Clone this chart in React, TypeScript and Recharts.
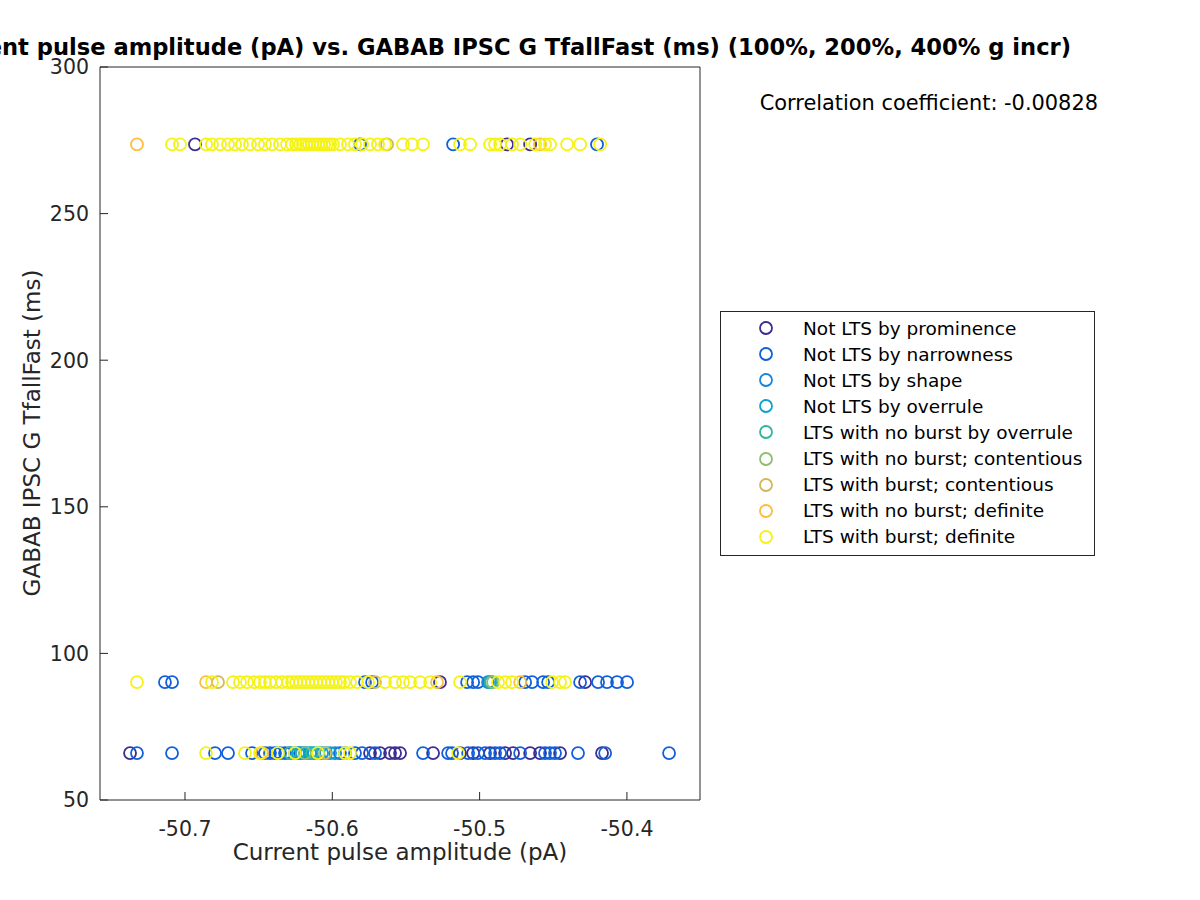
import { Scatter, ScatterChart, XAxis, YAxis } from 'recharts';

// amplitude (pA) of each cell, grouped by LTS class and TfallFast level
const tfallHigh = 273.6;
const tfallMid = 90.2;
const tfallLow = 66.0;

const prominenceHigh = [-50.6932, -50.4814, -50.4657];
const prominenceMid = [-50.5269, -50.4284];
const prominenceLow = [
  -50.7373, -50.5744, -50.5676, -50.5608, -50.5574, -50.554, -50.5316, -50.5133, -50.5044,
  -50.4929, -50.4827, -50.4773, -50.4657, -50.459, -50.4454, -50.4169,
];

const narrownessHigh = [-50.5812, -50.518, -50.4203];
const narrownessMid = [
  -50.7136, -50.7088, -50.5778, -50.573, -50.5085, -50.5044, -50.5011, -50.4691, -50.4644,
  -50.4569, -50.4535, -50.4318, -50.4196, -50.4135, -50.4067, -50.3999,
];
const narrownessLow = [
  -50.7326, -50.7088, -50.6796, -50.6708, -50.6545, -50.6457, -50.6423, -50.6389, -50.6355,
  -50.6321, -50.6287, -50.6219, -50.5948, -50.5846, -50.5798, -50.571, -50.5384, -50.5214,
  -50.5187, -50.5078, -50.5011, -50.4963, -50.4895, -50.4861, -50.4725, -50.4556, -50.4522,
  -50.4488, -50.4332, -50.4148, -50.3714,
];

const shapeMid = [-50.4943];
const shapeLow = [-50.6253, -50.6185, -50.5981, -50.5914];

const overruleMid = [-50.4929];
const overruleLow = [
  -50.6233, -50.6206, -50.6178, -50.6151, -50.6124, -50.6097, -50.607, -50.6043, -50.6015,
];

const noBurstOverruleMid = [-50.4922];
const noBurstOverruleLow = [-50.6287, -50.6138];

const noBurstContentiousMid = [-50.4909];
const noBurstContentiousLow = [-50.6185];

const burstContentiousHigh = [-50.5628];
const burstContentiousMid = [-50.6776, -50.571];
const burstContentiousLow = [-50.6049];

const noBurstDefiniteHigh = [-50.7326, -50.459];
const noBurstDefiniteMid = [-50.6857, -50.5289, -50.4725];
const noBurstDefiniteLow = [-50.6477];

const burstDefiniteHigh = [
  -50.7088, -50.7034, -50.6857, -50.6817, -50.6762, -50.6708, -50.666, -50.6613, -50.6559,
  -50.6504, -50.6457, -50.6409, -50.6355, -50.6307, -50.6273, -50.6246, -50.6219, -50.6199,
  -50.6178, -50.6158, -50.6138, -50.6117, -50.6097, -50.6077, -50.6056, -50.6036, -50.6015,
  -50.5995, -50.5948, -50.5893, -50.5846, -50.5798, -50.5744, -50.569, -50.5642, -50.552,
  -50.5459, -50.5384, -50.5133, -50.5065, -50.4929, -50.4895, -50.4861, -50.478, -50.4725,
  -50.4623, -50.4556, -50.4522, -50.4406, -50.4318, -50.4182,
];
const burstDefiniteMid = [
  -50.7326, -50.6817, -50.6674, -50.6627, -50.6579, -50.6531, -50.6491, -50.6457, -50.6423,
  -50.6382, -50.6341, -50.6301, -50.6273, -50.6246, -50.6219, -50.6192, -50.6165, -50.6138,
  -50.6111, -50.6083, -50.6056, -50.6029, -50.6002, -50.5975, -50.5948, -50.592, -50.588,
  -50.5832, -50.5757, -50.5642, -50.5574, -50.552, -50.5472, -50.5404, -50.5336, -50.5133,
  -50.4875, -50.4827, -50.478, -50.4508, -50.4454, -50.442,
];
const burstDefiniteLow = [
  -50.6857, -50.6593, -50.6491, -50.6369, -50.6253, -50.6097, -50.5914, -50.588, -50.5146,
];

const xTicks = [-50.7, -50.6, -50.5, -50.4];
const yTicks = [50, 100, 150, 200, 250, 300];
const xDomain = [-50.7577, -50.3504];
const yDomain = [50, 300];

const series = [
  { name: 'Not LTS by prominence', color: '#3b2d91', high: prominenceHigh, mid: prominenceMid, low: prominenceLow },
  { name: 'Not LTS by narrowness', color: '#1060dc', high: narrownessHigh, mid: narrownessMid, low: narrownessLow },
  { name: 'Not LTS by shape', color: '#1a86d8', high: [], mid: shapeMid, low: shapeLow },
  { name: 'Not LTS by overrule', color: '#0aa5c9', high: [], mid: overruleMid, low: overruleLow },
  { name: 'LTS with no burst by overrule', color: '#32b69f', high: [], mid: noBurstOverruleMid, low: noBurstOverruleLow },
  { name: 'LTS with no burst; contentious', color: '#8bbf72', high: [], mid: noBurstContentiousMid, low: noBurstContentiousLow },
  { name: 'LTS with burst; contentious', color: '#d3b85b', high: burstContentiousHigh, mid: burstContentiousMid, low: burstContentiousLow },
  { name: 'LTS with no burst; definite', color: '#fcbf3b', high: noBurstDefiniteHigh, mid: noBurstDefiniteMid, low: noBurstDefiniteLow },
  { name: 'LTS with burst; definite', color: '#f5f314', high: burstDefiniteHigh, mid: burstDefiniteMid, low: burstDefiniteLow },
].map((s) => ({
  ...s,
  points: [
    ...s.high.map((x) => ({ x, y: tfallHigh })),
    ...s.mid.map((x) => ({ x, y: tfallMid })),
    ...s.low.map((x) => ({ x, y: tfallLow })),
  ],
}));

const font = '"DejaVu Sans", sans-serif';
const ink = '#262626';

// labels outside the box, tick marks pointing in (MATLAB style)
const BottomTick = (p: any) => (
  <g>
    <line x1={p.x} x2={p.x} y1={p.y} y2={p.y - 8} stroke={ink} />
    <text x={p.x} y={p.y + 36} textAnchor='middle' fill={ink} fontSize={20.5} fontFamily={font}>
      {Number(p.payload.value).toFixed(1)}
    </text>
  </g>
);

const LeftTick = (p: any) => (
  <g>
    <line x1={p.x} x2={p.x + 8} y1={p.y} y2={p.y} stroke={ink} />
    <text x={p.x - 11} y={p.y} dy='0.36em' textAnchor='end' fill={ink} fontSize={20.5} fontFamily={font}>
      {p.payload.value}
    </text>
  </g>
);

const LegendBox = () => (
  <div
    style={{
      position: 'absolute',
      left: 720,
      top: 311,
      width: 373,
      height: 240,
      border: `1px solid ${ink}`,
      background: '#fff',
      fontFamily: font,
      fontSize: 18.5,
      color: '#000',
      paddingTop: 3,
      boxSizing: 'content-box',
    }}
  >
    {series.map((s) => (
      <div key={s.name} style={{ display: 'flex', alignItems: 'center', height: 26.1 }}>
        <svg width={82} height={26} style={{ flex: 'none' }}>
          <circle cx={45} cy={13} r={6} fill='none' stroke={s.color} strokeWidth={1.8} />
        </svg>
        <span style={{ whiteSpace: 'nowrap' }}>{s.name}</span>
      </div>
    ))}
  </div>
);

export default function App() {
  return (
    <div style={{ position: 'absolute', left: 0, top: 0, width: 1200, height: 900, background: '#fff' }}>
      <ScatterChart width={1200} height={900} margin={{ top: 67, right: 500, bottom: 99, left: 99 }}>
        <XAxis
          xAxisId='x'
          type='number'
          dataKey='x'
          domain={xDomain}
          ticks={xTicks}
          allowDataOverflow
          height={1}
          tickSize={0}
          tickMargin={0}
          tickLine={false}
          axisLine={{ stroke: ink }}
          tick={<BottomTick />}
        />
        <XAxis
          xAxisId='xtop'
          orientation='top'
          type='number'
          domain={xDomain}
          ticks={xTicks}
          allowDataOverflow
          height={1}
          mirror
          tick={false}
          tickSize={8}
          axisLine={{ stroke: ink }}
          tickLine={{ stroke: ink }}
        />
        <YAxis
          yAxisId='y'
          type='number'
          dataKey='y'
          domain={yDomain}
          ticks={yTicks}
          allowDataOverflow
          width={1}
          tickSize={0}
          tickMargin={0}
          tickLine={false}
          axisLine={{ stroke: ink }}
          tick={<LeftTick />}
        />
        <YAxis
          yAxisId='yright'
          orientation='right'
          type='number'
          domain={yDomain}
          ticks={yTicks}
          allowDataOverflow
          width={1}
          mirror
          tick={false}
          tickSize={8}
          axisLine={{ stroke: ink }}
          tickLine={{ stroke: ink }}
        />
        {series.map((s) => (
          <Scatter
            key={s.name}
            name={s.name}
            data={s.points}
            xAxisId='x'
            yAxisId='y'
            isAnimationActive={false}
            shape={(p: any) => <circle cx={p.cx} cy={p.cy} r={6} fill='none' stroke={s.color} strokeWidth={1.8} />}
          />
        ))}
        <text x={1071} y={55} textAnchor='end' fontFamily={font} fontWeight='bold' fontSize={22.6} fill='#000'>
          Current pulse amplitude (pA) vs. GABAB IPSC G TfallFast (ms) (100%, 200%, 400% g incr)
        </text>
        <text x={1098} y={110} textAnchor='end' fontFamily={font} fontSize={20.9} fill='#000'>
          Correlation coefficient: -0.00828
        </text>
        <text x={400} y={860} textAnchor='middle' fontFamily={font} fontSize={23} fill={ink}>
          Current pulse amplitude (pA)
        </text>
        <text x={40} y={433} textAnchor='middle' transform='rotate(-90 40 433)' fontFamily={font} fontSize={23} fill={ink}>
          GABAB IPSC G TfallFast (ms)
        </text>
      </ScatterChart>
      <LegendBox />
    </div>
  );
}
